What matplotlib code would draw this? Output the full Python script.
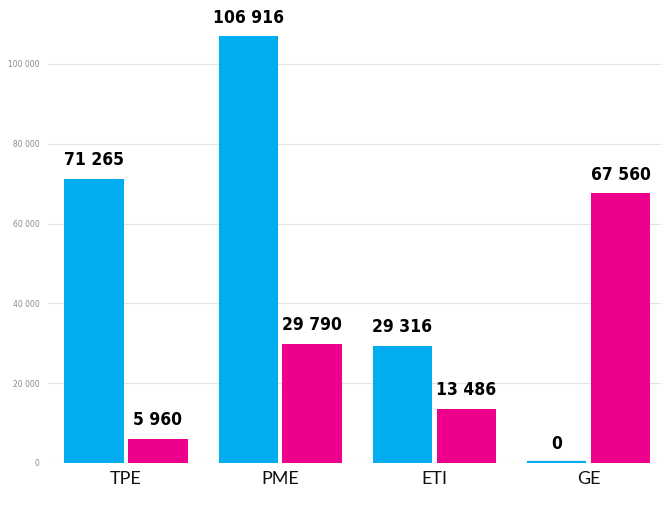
import matplotlib
matplotlib.use("Agg")
import matplotlib.pyplot as plt
import numpy as np

categories = ["TPE", "PME", "ETI", "GE"]
series_blue = [71265, 106916, 29316, 0]
series_pink = [5960, 29790, 13486, 67560]
yticks = [0, 20000, 40000, 60000, 80000, 100000]
ytick_labels = ["0", "20 000", "40 000", "60 000", "80 000", "100 000"]

BLUE = "#00AEEF"
PINK = "#EC008C"

fig = plt.figure(figsize=(6.61, 5.15), dpi=100)
ax = fig.add_axes([48/661, 52/515, 1 - 48/661, 1 - 52/515])

x = np.arange(len(categories))
w = 0.385
off = 0.207
bb = ax.bar(x - off, series_blue, w, color=BLUE,
            edgecolor=BLUE, linewidth=[0 if v else 3 for v in series_blue], zorder=3)
bp = ax.bar(x + off, series_pink, w, color=PINK, linewidth=0, zorder=3)

def fmt(v):
    return f"{v:,}".replace(",", " ")

for bars, vals in ((bb, series_blue), (bp, series_pink)):
    for r, v in zip(bars, vals):
        ax.annotate(fmt(v), (r.get_x() + r.get_width()/2, v), xytext=(0, 7),
                    textcoords="offset points", ha="center", va="bottom",
                    fontsize=12.5, fontweight="heavy", fontstretch="condensed",
                    family=["DejaVu Sans"], color="black")

ax.set_xlim(-0.506, 3.47)
ax.set_ylim(0, 116040)
ax.set_yticks(yticks)
ax.set_yticklabels(ytick_labels, fontsize=5.5, color="#8a8a8a")
ax.set_xticks(x)
ax.set_xticklabels(categories, fontsize=13, family=["Lato", "DejaVu Sans"],
                   fontweight="normal", color="#111111")
ax.tick_params(axis="x", length=0, pad=6)
ax.tick_params(axis="y", length=0, pad=6)
ax.grid(axis="y", color="#e3e3e3", linewidth=0.8, zorder=0)
for s in ax.spines.values():
    s.set_visible(False)

fig.savefig("out.png", dpi=100)
